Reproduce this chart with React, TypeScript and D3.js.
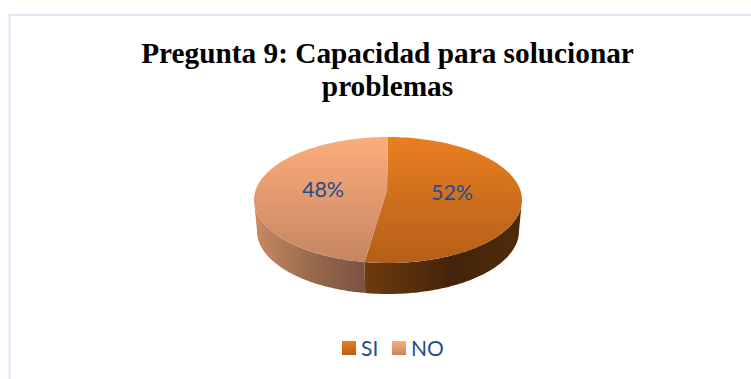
import React from "react";
import * as d3 from "d3";

const categories = ["SI", "NO"];
const counts = [11, 10];
const titleLines = ["Pregunta 9: Capacidad para solucionar", "problemas"];
const topStops = [["#EA7F23", "#B35F18"], ["#FCAD7B", "#C58560"]];
const sideStops = [["#703B0E", "#43240A", "#4F2B0B"], ["#C98A62", "#9A6B4E", "#7A5440"]];

const W = 751, H = 379;
const cx = 388, cy = 200, rx = 134, ry = 63, depth = 31, bottomRx = 131;
const persp = 0.852;

// unit-circle angle -> ellipse parameter, so the centre lands behind the ellipse's middle
const warp = (a: number) => {
  const half = a / 2;
  if (Math.abs(Math.cos(half)) < 1e-6) return a;
  let t = 2 * Math.atan(persp * Math.tan(half));
  while (t < a - Math.PI) t += 2 * Math.PI;
  return t;
};
const apex = (() => {
  const t = warp(Math.PI / 2);
  return [cx - 1, cy - ry * Math.cos(t)];
})();

const pt = (t: number, rr = rx, dy = 0): [number, number] => [
  cx + rr * Math.sin(t),
  cy + dy - ry * Math.cos(t),
];

const slices = d3.pie<number>().sort(null)(counts);
const pctFmt = d3.format(".0%");
const total = d3.sum(counts);

function topPath(a0: number, a1: number) {
  const p = d3.path();
  const t0 = warp(a0), t1 = warp(a1);
  const n = 120;
  p.moveTo(apex[0], apex[1]);
  d3.range(n + 1).forEach((i) => {
    const [x, y] = pt(t0 + ((t1 - t0) * i) / n);
    p.lineTo(x, y);
  });
  p.closePath();
  return p.toString();
}

function sidePath(a0: number, a1: number) {
  const t0 = Math.max(warp(a0), Math.PI / 2), t1 = Math.min(warp(a1), (3 * Math.PI) / 2);
  const n = 100;
  const p = d3.path();
  d3.range(n + 1).forEach((i) => {
    const [x, y] = pt(t0 + ((t1 - t0) * i) / n);
    if (i === 0) p.moveTo(x, y); else p.lineTo(x, y);
  });
  d3.range(n, -1, -1).forEach((i) => {
    const [x, y] = pt(t0 + ((t1 - t0) * i) / n, bottomRx, depth);
    p.lineTo(x, y);
  });
  p.closePath();
  return p.toString();
}

const labelPos = [[452, 192], [323, 189]];
const legendX = [342, 392];
const legendTextX = [361, 411];

export default function App() {
  return (
    <svg
      width={W}
      height={H}
      viewBox={`0 0 ${W} ${H}`}
      style={{ position: "absolute", left: 0, top: 0, display: "block", background: "#fff" }}
    >
      <defs>
        {categories.map((c, i) => (
          <linearGradient key={c} id={`top${i}`} gradientUnits="userSpaceOnUse" x1="0" y1={cy - ry} x2="0" y2={cy + ry}>
            <stop offset="0" stopColor={topStops[i][0]} />
            <stop offset="1" stopColor={topStops[i][1]} />
          </linearGradient>
        ))}
        {categories.map((c, i) => (
          <linearGradient key={c} id={`leg${i}`} x1="0" y1="0" x2="0" y2="1">
            <stop offset="0" stopColor={topStops[i][0]} />
            <stop offset="1" stopColor={topStops[i][1]} />
          </linearGradient>
        ))}
        <linearGradient id="side0" gradientUnits="userSpaceOnUse" x1="363" y1="0" x2="522" y2="0">
          <stop offset="0" stopColor={sideStops[0][0]} />
          <stop offset="0.55" stopColor={sideStops[0][1]} />
          <stop offset="1" stopColor={sideStops[0][2]} />
        </linearGradient>
        <linearGradient id="side1" gradientUnits="userSpaceOnUse" x1="254" y1="0" x2="363" y2="0">
          <stop offset="0" stopColor={sideStops[1][0]} />
          <stop offset="0.5" stopColor={sideStops[1][1]} />
          <stop offset="1" stopColor={sideStops[1][2]} />
        </linearGradient>
      </defs>

      <path d={`M9.5 ${H} V15 H${W}`} fill="none" stroke="#DCE7F5" strokeWidth={2} />

      {titleLines.map((t, i) => (
        <text
          key={t}
          x={387.5}
          y={63 + i * 33}
          textAnchor="middle"
          fontFamily="'Liberation Serif', serif"
          fontWeight="bold"
          fontSize={29.3}
          fill="#000"
        >
          {t}
        </text>
      ))}

      {slices.map((s, i) => (
        <path key={`side${i}`} d={sidePath(s.startAngle, s.endAngle)} fill={`url(#side${i})`} />
      ))}
      {slices.map((s, i) => (
        <path key={`top${i}`} d={topPath(s.startAngle, s.endAngle)} fill={`url(#top${i})`} />
      ))}
      {slices.map((s, i) => (
        <text
          key={`lab${i}`}
          x={labelPos[i][0]}
          y={labelPos[i][1]}
          textAnchor="middle"
          dominantBaseline="central"
          fontFamily="Lato, sans-serif"
          fontSize={21.5}
          fill="#1F4E8C"
        >
          {pctFmt(s.value / total)}
        </text>
      ))}

      {categories.map((c, i) => (
        <g key={c}>
          <rect x={legendX[i]} y={341} width={14} height={14} fill={`url(#leg${i})`} />
          <text x={legendTextX[i]} y={356} fontFamily="Lato, sans-serif" fontSize={21} fill="#1F4E8C">
            {c}
          </text>
        </g>
      ))}
    </svg>
  );
}
